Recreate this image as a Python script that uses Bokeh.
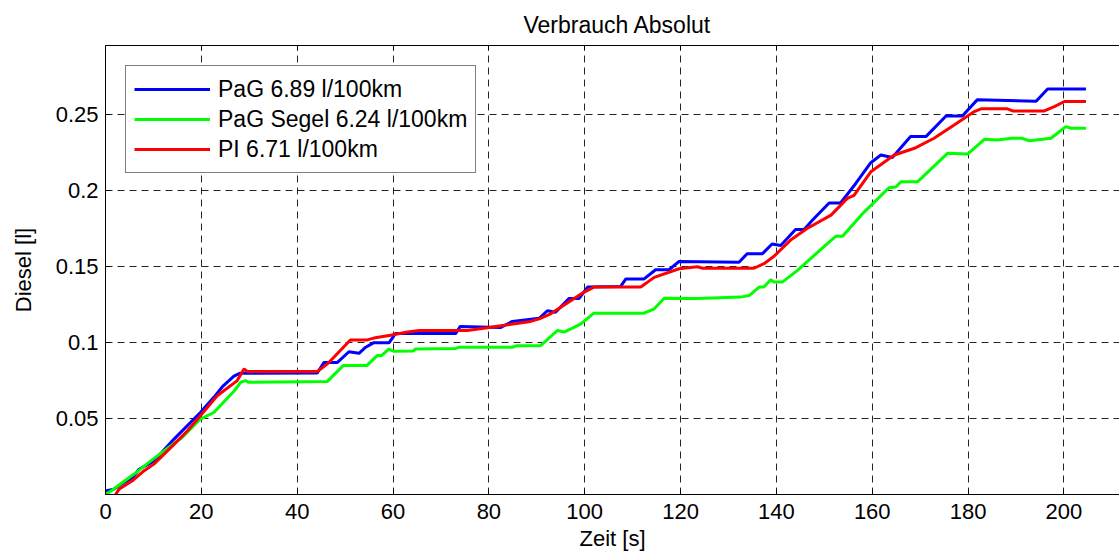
from bokeh.plotting import figure
from bokeh.models import FixedTicker, LinearAxis, Range1d, Legend, LegendItem
from bokeh.embed import file_html
from bokeh.resources import INLINE

# ---- data ----
t_blue = [0, 1.7, 3.8, 5.6, 7, 10.1, 14.3, 19.8, 22.6, 24.4, 26.8, 28, 44.2, 45.6, 48.4, 50.8, 52.9,
          54.3, 56, 59.2, 60.5, 73.1, 74, 82.5, 84.9, 90.5, 92.2, 93.9, 96.7, 98.8, 100.6, 107.5,
          108.6, 112.4, 114.8, 117.6, 119.7, 132.2, 133.9, 137.1, 139.1, 140.9, 144, 145.8, 147.5,
          151, 153.4, 156.6, 159.7, 161.8, 164.2, 168, 171.2, 175.4, 178.8, 181.9, 194.2, 196.6, 204.6]
v_blue = [0.0023, 0.0034, 0.0078, 0.011, 0.0166, 0.022, 0.0365, 0.054, 0.064, 0.071, 0.078, 0.0798,
          0.0800, 0.087, 0.087, 0.094, 0.093, 0.097, 0.100, 0.100, 0.106, 0.106, 0.1106, 0.110,
          0.114, 0.116, 0.121, 0.120, 0.129, 0.129, 0.1366, 0.137, 0.142, 0.142, 0.148, 0.148,
          0.1535, 0.153, 0.1586, 0.1586, 0.165, 0.164, 0.1745, 0.1745, 0.1806, 0.192, 0.192, 0.205,
          0.2185, 0.2236, 0.222, 0.2357, 0.2357, 0.2493, 0.2493, 0.2599, 0.259, 0.267, 0.267]

t_green = [0, 1, 5.9, 9.4, 13.6, 16, 19.8, 22.6, 26.8, 28.2, 29.2, 29.9, 46.3, 49.6, 54.5, 56.7,
           57.6, 59.1, 60.2, 64.2, 64.7, 73.1, 73.8, 84.9, 85.9, 90.8, 94.3, 95.7, 97.1, 99.2,
           101.9, 112.4, 114.5, 116.6, 123.5, 132.6, 134.3, 136.4, 137.4, 138.8, 139.5, 141.3,
           144.4, 147.9, 151.4, 152.4, 153.8, 158.3, 163.5, 164.9, 166, 169.5, 175.7, 179.9,
           183.4, 186.2, 189.1, 191.2, 192.8, 197.3, 200.4, 201.5, 204.6]
v_green = [0, 0.002, 0.0133, 0.022, 0.032, 0.0375, 0.0497, 0.054, 0.068, 0.0739, 0.075, 0.0739,
           0.0745, 0.0849, 0.0849, 0.0915, 0.0915, 0.0957, 0.0943, 0.0945, 0.0959, 0.0962, 0.097,
           0.097, 0.098, 0.098, 0.108, 0.107, 0.109, 0.1124, 0.1194, 0.1194, 0.1223, 0.1293, 0.129,
           0.130, 0.131, 0.1366, 0.1366, 0.1415, 0.140, 0.140, 0.1476, 0.1575, 0.1674, 0.170,
           0.170, 0.186, 0.202, 0.2025, 0.206, 0.206, 0.2247, 0.2242, 0.2339, 0.2335, 0.2346,
           0.2346, 0.233, 0.2346, 0.2423, 0.2412, 0.2412]

t_red = [2.1, 2.8, 5.6, 8, 10.1, 14.3, 17.1, 19.8, 23.3, 27.5, 28.9, 29.6, 44.2, 46.3, 51.1, 54.6,
         56, 59.5, 63, 65.5, 75.5, 79.7, 83.2, 88.7, 90.5, 92.9, 95, 99.9, 101.9, 111.7, 114.5,
         119.7, 123.5, 124.6, 135.3, 137.4, 139.5, 142.9, 146.4, 151.4, 154.8, 156.2, 159.7,
         164.6, 168.8, 172.9, 177.1, 181.3, 182.7, 188.2, 189.3, 195.9, 198, 200.1, 204.6]
v_red = [0, 0.0034, 0.009, 0.0155, 0.020, 0.033, 0.042, 0.0518, 0.065, 0.075, 0.0827, 0.081, 0.081,
         0.086, 0.1018, 0.1018, 0.103, 0.1049, 0.107, 0.108, 0.108, 0.1098, 0.1114, 0.114, 0.1157,
         0.119, 0.1234, 0.1333, 0.1366, 0.1366, 0.143, 0.1487, 0.150, 0.149, 0.149, 0.152, 0.1569,
         0.1674, 0.1752, 0.184, 0.195, 0.197, 0.2125, 0.2236, 0.228, 0.2346, 0.2434, 0.2522,
         0.254, 0.254, 0.2526, 0.2526, 0.2555, 0.2588, 0.2588]

series_labels = ["PaG 6.89 l/100km", "PaG Segel 6.24 l/100km", "PI 6.71 l/100km"]
x_ticks = [0, 20, 40, 60, 80, 100, 120, 140, 160, 180, 200]
y_ticks = [0.05, 0.1, 0.15, 0.2, 0.25]
y_tick_labels = ["0.05", "0.1", "0.15", "0.2", "0.25"]

FONT = "Liberation Sans"
FS = "22px"

p = figure(width=1119, height=554, output_backend="svg", toolbar_location=None,
           x_range=Range1d(0, 211.6), y_range=Range1d(0, 0.2957),
           min_border_left=105, min_border_right=0, min_border_top=45, min_border_bottom=60,
           title="Verbrauch Absolut")
p.background_fill_color = "white"
p.border_fill_color = "white"
p.outline_line_color = None

p.title.align = "left"
p.title.offset = 418
p.title.standoff = 16
p.title.text_font = FONT
p.title.text_font_size = "23px"
p.title.text_font_style = "normal"
p.title.text_color = "black"

r_blue = p.line(t_blue, v_blue, line_color="#0000FF", line_width=3)
r_green = p.line(t_green, v_green, line_color="#00FF00", line_width=3)
r_red = p.line(t_red, v_red, line_color="#FF0000", line_width=3)

# axes
for ax in (p.xaxis[0], p.yaxis[0]):
    ax.major_tick_in = 5
    ax.major_tick_out = 0
    ax.minor_tick_line_color = None
    ax.axis_line_color = "black"
    ax.major_tick_line_color = "black"
    ax.major_label_text_font = FONT
    ax.major_label_text_font_size = FS
    ax.major_label_text_color = "black"
    ax.axis_label_text_font = FONT
    ax.axis_label_text_font_size = FS
    ax.axis_label_text_font_style = "normal"
    ax.axis_label_text_color = "black"

p.xaxis.ticker = FixedTicker(ticks=x_ticks)
p.xaxis.axis_label = "Zeit [s]"
p.xaxis.major_label_standoff = 9
p.xaxis.axis_label_standoff = 4

p.yaxis.ticker = FixedTicker(ticks=y_ticks)
p.yaxis.major_label_overrides = {v: s for v, s in zip(y_ticks, y_tick_labels)}
p.yaxis.axis_label = "Diesel [l]"
p.yaxis.major_label_standoff = 7
p.yaxis.axis_label_standoff = 17

# top frame edge with inward ticks, no labels
top = LinearAxis(ticker=FixedTicker(ticks=x_ticks), major_tick_in=5, major_tick_out=0,
                 minor_tick_line_color=None, major_label_text_font_size="1px",
                 major_label_text_color=None, major_label_standoff=0,
                 axis_line_color="black", major_tick_line_color="black")
p.add_layout(top, "above")

# grid
p.xgrid.ticker = FixedTicker(ticks=x_ticks)
p.ygrid.ticker = FixedTicker(ticks=y_ticks)
for g in (p.xgrid[0], p.ygrid[0]):
    g.grid_line_color = "black"
    g.grid_line_alpha = 0.85
    g.grid_line_dash = "7 5"
    g.grid_line_width = 1

legend = Legend(items=[LegendItem(label=series_labels[0], renderers=[r_blue]),
                       LegendItem(label=series_labels[1], renderers=[r_green]),
                       LegendItem(label=series_labels[2], renderers=[r_red])],
                location="top_left")
legend.margin = 20
legend.padding = 8
legend.spacing = 0
legend.label_height = 30
legend.glyph_height = 30
legend.glyph_width = 76
legend.label_standoff = 8
legend.label_text_font = FONT
legend.label_text_font_size = "23px"
legend.label_text_color = "black"
legend.border_line_color = "black"
legend.border_line_width = 1.5
legend.background_fill_color = "white"
legend.background_fill_alpha = 1
p.add_layout(legend)

open("out.html", "w").write(file_html(p, INLINE))
